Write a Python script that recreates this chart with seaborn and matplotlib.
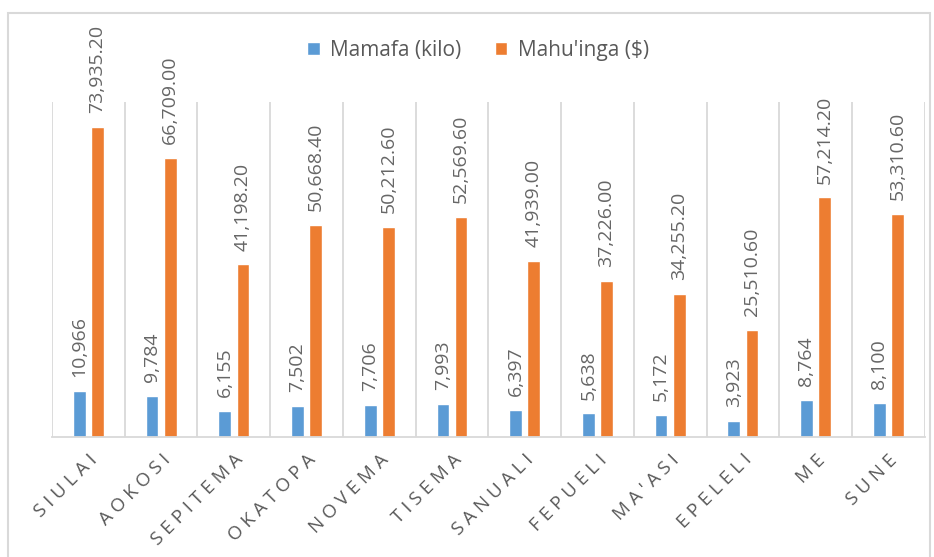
import matplotlib
matplotlib.use('Agg')
import matplotlib.pyplot as plt
import seaborn as sns
import pandas as pd
from matplotlib.patches import Rectangle

# Data
months = ['SIULAI', 'AOKOSI', 'SEPITEMA', 'OKATOPA', 'NOVEMA', 'TISEMA',
          'SANUALI', 'FEPUELI', "MA'ASI", 'EPELELI', 'ME', 'SUNE']
weight_kg = [10966, 9784, 6155, 7502, 7706, 7993, 6397, 5638, 5172, 3923, 8764, 8100]
value_usd = [73935.20, 66709.00, 41198.20, 50668.40, 50212.60, 52569.60,
             41939.00, 37226.00, 34255.20, 25510.60, 57214.20, 53310.60]
series_names = ['Mamafa (kilo)', "Mahu'inga ($)"]
colors = ['#5B9BD5', '#ED7D31']
grey = '#595959'
grid_col = '#D9D9D9'

df = pd.DataFrame({
    'month': months * 2,
    'value': weight_kg + value_usd,
    'series': [series_names[0]] * len(months) + [series_names[1]] * len(months),
})

sns.set_style('white')
plt.rcParams['font.family'] = ['Open Sans', 'DejaVu Sans']

fig = plt.figure(figsize=(9.34, 5.57), dpi=100)
ax = fig.add_axes([0.0557, 0.2154, 0.9343, 0.6015])

sns.barplot(data=df, x='month', y='value', hue='series', palette=colors,
            width=0.5, gap=0.3, ax=ax, saturation=1, legend=True)

# value labels
for cont, fmt in zip(ax.containers, ['{:,.0f}', '{:,.2f}']):
    ax.bar_label(cont, labels=[fmt.format(v) for v in cont.datavalues],
                 rotation=90, padding=10, fontsize=14, color='#666666', clip_on=False)

ax.set_ylim(0, 80000)
ax.set_xlim(-0.5, len(months) - 0.5)
ax.set_yticks([])
ax.set_xlabel('')
ax.set_ylabel('')
for i in range(len(months) + 1):
    ax.axvline(i - 0.5, color=grid_col, lw=1.3, zorder=0)
for s in ['top', 'left', 'right']:
    ax.spines[s].set_visible(False)
ax.spines['bottom'].set_color(grid_col)
ax.spines['bottom'].set_linewidth(1.3)

spaced = [' '.join(m) for m in months]
ax.set_xticks(range(len(months)))
ax.set_xticklabels(spaced, rotation=45, ha='right', rotation_mode='anchor',
                   fontsize=13.5, color=grey)
ax.tick_params(axis='x', length=0, pad=10)

leg = ax.legend(loc='center', bbox_to_anchor=(0.512, 0.91), bbox_transform=fig.transFigure,
                ncol=2, frameon=False, fontsize=15, handlelength=0.6, handleheight=0.6,
                columnspacing=1.6, handletextpad=0.5, labelcolor=grey)

# outer chart border
fig.patches.append(Rectangle((8 / 934, -0.01), 922 / 934, 1 - 13 / 557 + 0.01,
                             transform=fig.transFigure, fill=False,
                             edgecolor=grid_col, lw=1.5))

fig.savefig('out.png', dpi=100)
